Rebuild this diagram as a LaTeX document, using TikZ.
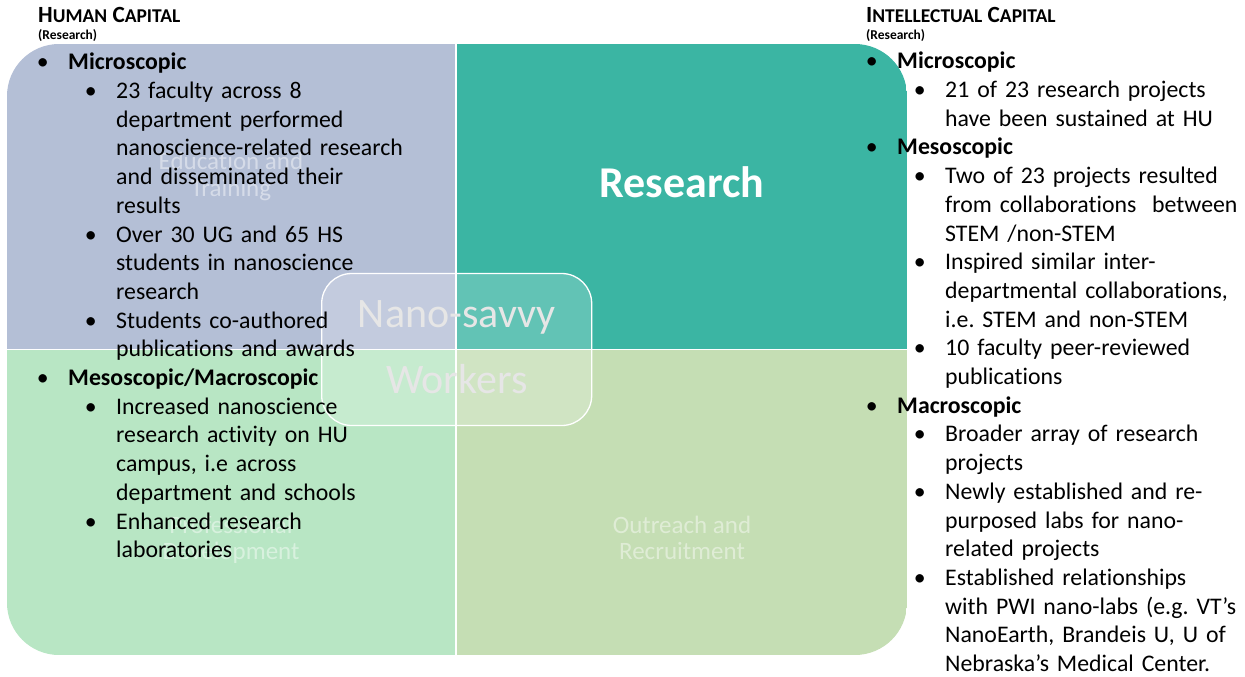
\documentclass[tikz,border=0pt]{standalone}
\usepackage{fontspec}
\setmainfont{Carlito}[Ligatures = {TeX, NoCommon}]
\usetikzlibrary{positioning}

\definecolor{edublue}{HTML}{B4BFD6}
\definecolor{resteal}{HTML}{3BB5A3}
\definecolor{profgreen}{HTML}{B8E6C4}
\definecolor{outgreen}{HTML}{C5DEB4}
\definecolor{hubgray}{HTML}{E6E6E6}

\frenchspacing
\newcommand{\firstcap}[2]{{\fontsize{23.2}{23}\selectfont#1}{\fontsize{19.5}{23}\selectfont#2}}
\newcommand{\mainpt}[1]{\par\leftskip=0pt\noindent\llap{\makebox[0pt]{\textbullet}\hspace{25.5pt}}\textbf{#1}}
\newcommand{\subpt}[1]{\par\leftskip=48pt\noindent\llap{\makebox[0pt]{\textbullet}\hspace{25.5pt}}#1}

\tikzset{header/.style = {anchor = base west, inner sep = 0, font = \bfseries\fontsize{23.2}{23}\selectfont}}
\tikzset{subhead/.style = {anchor = base west, inner sep = 0, font = \bfseries\fontsize{13.5}{15}\selectfont}}
\tikzset{bullets/.style = {anchor = north west, inner sep = 0, align = left, font = \fontsize{23.8}{28.7}\selectfont}}
\tikzset{faint/.style = {anchor = north, inner sep = 0, align = center, text = white, text opacity = 0.45, font = \fontsize{25}{26.5}\selectfont}}
\tikzset{hub/.style = {draw = white, line width = 1.3pt, fill = white, fill opacity = 0.2, rounded corners = 30pt, minimum width = 270pt, minimum height = 152pt}}
\tikzset{hubtext/.style = {anchor = base, inner sep = 0, text = hubgray, font = \fontsize{42}{42}\selectfont}}

\begin{document}
\begin{tikzpicture}[x = 1pt, y = -1pt]
    \useasboundingbox (0, 0) rectangle (1245, 677);

    \begin{scope}
      \clip [rounded corners = 52pt] (7, 44) rectangle (907, 655);
      \fill [edublue] (7, 44) rectangle (456, 349.5);
      \fill [resteal] (456, 44) rectangle (907, 349.5);
      \fill [profgreen] (7, 349.5) rectangle (456, 655);
      \fill [outgreen] (456, 349.5) rectangle (907, 655);
      \draw [white, line width = 1.5pt] (456, 44) -- (456, 655) (7, 349.5) -- (907, 349.5);
    \end{scope}

    \node [faint] (edu) at (231, 151.5) {\rule{0pt}{18pt}Education and\\Training};
    \node [faint] (prof) at (231, 515) {\rule{0pt}{18pt}Professional\\Development};
    \node [faint] (outreach) at (682, 515) {\rule{0pt}{18pt}Outreach and\\Recruitment};
    \node [anchor = base, inner sep = 0, text = white, font = \bfseries\fontsize{44}{44}\selectfont] (research) at (682, 197) {Research};

    \node [hub] (hub) at (456.7, 349.5) {};
    \node [hubtext] (nano) at (456.7, 327.5) {Nano-savvy};
    \node [hubtext] (workers) at (456.7, 393) {Workers};

    \node [header] (humanhead) at (38, 22.7) {\firstcap{H}{UMAN} \firstcap{C}{APITAL}};
    \node [subhead] (humanres) at (38, 39.5) {(Research)};
    \node [header] (intelhead) at (866, 22.3) {\firstcap{I}{NTELLECTUAL} \firstcap{C}{APITAL}};
    \node [subhead] (intelres) at (866, 39.5) {(Research)};

    \node [bullets, text width = 400pt] (humanlist) at (68, 41) {%
      \mainpt{\rule{0pt}{20pt}Microscopic}
      \subpt{23 faculty across 8\\department performed\\nanoscience-related research\\and disseminated their\\results}
      \subpt{Over 30 UG and 65 HS\\students in nanoscience\\research}
      \subpt{Students co-authored\\publications and awards}
      \mainpt{Mesoscopic/Macroscopic}
      \subpt{Increased nanoscience\\research activity on HU\\campus, i.e across\\department and schools}
      \subpt{Enhanced research\\laboratories}\par};

    \node [bullets, text width = 345pt] (intellist) at (897, 40) {%
      \mainpt{\rule{0pt}{20pt}Microscopic}
      \subpt{21 of 23 research projects\\have been sustained at HU}
      \mainpt{Mesoscopic}
      \subpt{Two of 23 projects resulted\\from collaborations\ \ between\\STEM /non-STEM}
      \subpt{Inspired similar inter-\\departmental collaborations,\\i.e. STEM and non-STEM}
      \subpt{10 faculty peer-reviewed\\publications}
      \mainpt{Macroscopic}
      \subpt{Broader array of research\\projects}
      \subpt{Newly established and re-\\purposed labs for nano-\\related projects}
      \subpt{Established relationships\\with PWI nano-labs (e.g. VT's\\NanoEarth, Brandeis U, U of\\Nebraska's Medical Center.}\par};
\end{tikzpicture}
\end{document}
